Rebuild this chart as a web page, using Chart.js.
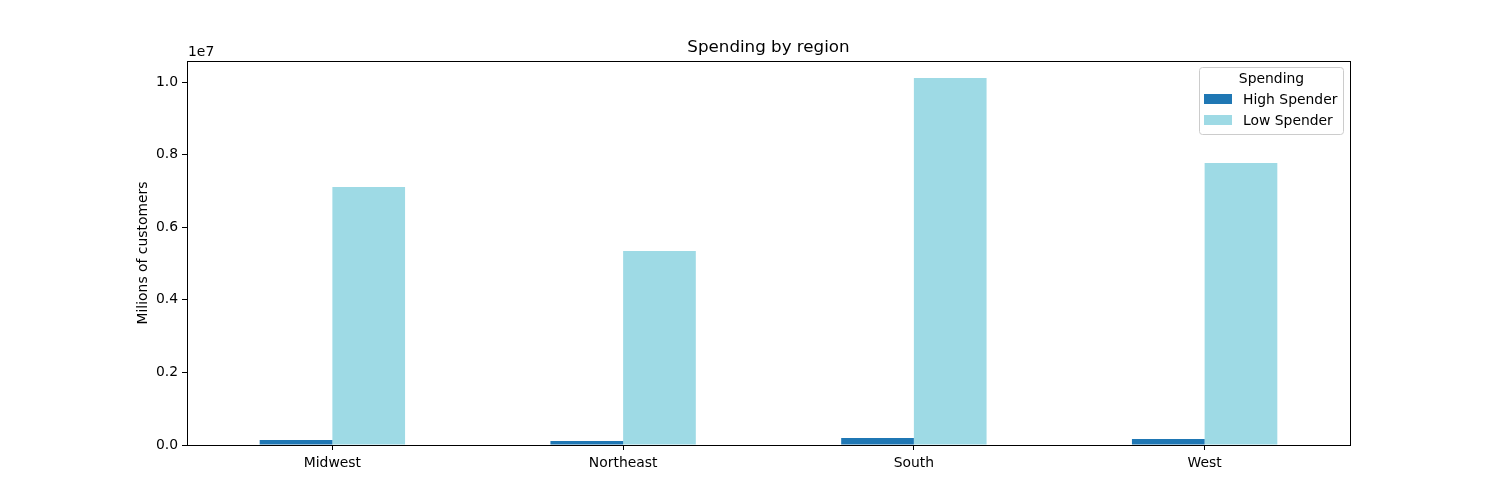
<!DOCTYPE html>
<html>
<head>
<meta charset="utf-8">
<script src="https://cdn.jsdelivr.net/npm/chart.js@4.4.0/dist/chart.umd.min.js"></script>
<style>
html,body{margin:0;padding:0;background:#fff;}
#wrap{width:1500px;height:500px;position:relative;}
</style>
</head>
<body>
<div id="wrap"><canvas id="c" width="1500" height="500"></canvas></div>
<script>
const categories = ["Midwest", "Northeast", "South", "West"];
const highSpender = [138000, 108000, 193000, 165000];
const lowSpender = [7107000, 5344000, 10110000, 7769000];
const seriesNames = ["High Spender", "Low Spender"];
const seriesColors = ["#1f77b4", "#9edae5"];
const yTicks = [0, 2000000, 4000000, 6000000, 8000000, 10000000];

const FONT = "'DejaVu Sans', sans-serif";

const decor = {
  id: 'decor',
  afterDraw(chart) {
    const ctx = chart.ctx;
    const a = chart.chartArea;
    ctx.save();
    ctx.strokeStyle = '#000';
    ctx.lineWidth = 1;
    ctx.strokeRect(Math.round(a.left) + 0.5, Math.round(a.top) + 0.5, Math.round(a.right - a.left), Math.round(a.bottom - a.top));
    ctx.fillStyle = '#000';
    ctx.font = '16.7px ' + FONT;
    ctx.textAlign = 'center';
    ctx.textBaseline = 'middle';
    ctx.fillText('Spending by region', (a.left + a.right) / 2, 47.5);
    ctx.font = '13.9px ' + FONT;
    ctx.textAlign = 'left';
    ctx.fillText('1e7', a.left + 1, 52);
    ctx.save();
    ctx.translate(143, (a.top + a.bottom) / 2);
    ctx.rotate(-Math.PI / 2);
    ctx.textAlign = 'center';
    ctx.fillText('Milions of customers', 0, 0);
    ctx.restore();
    const lx = 1199.5, ly = 67.5, lw = 144, lh = 67, r = 3;
    ctx.beginPath();
    ctx.moveTo(lx + r, ly);
    ctx.lineTo(lx + lw - r, ly);
    ctx.quadraticCurveTo(lx + lw, ly, lx + lw, ly + r);
    ctx.lineTo(lx + lw, ly + lh - r);
    ctx.quadraticCurveTo(lx + lw, ly + lh, lx + lw - r, ly + lh);
    ctx.lineTo(lx + r, ly + lh);
    ctx.quadraticCurveTo(lx, ly + lh, lx, ly + lh - r);
    ctx.lineTo(lx, ly + r);
    ctx.quadraticCurveTo(lx, ly, lx + r, ly);
    ctx.closePath();
    ctx.fillStyle = 'rgba(255,255,255,0.8)';
    ctx.fill();
    ctx.strokeStyle = '#cccccc';
    ctx.stroke();
    ctx.fillStyle = '#000';
    ctx.textAlign = 'center';
    ctx.fillText('Spending', lx + lw / 2, 79);
    ctx.textAlign = 'left';
    const rows = [99, 120];
    for (let i = 0; i < seriesNames.length; i++) {
      ctx.fillStyle = seriesColors[i];
      ctx.fillRect(1204, rows[i] - 5, 28, 10);
      ctx.fillStyle = '#000';
      ctx.fillText(seriesNames[i], 1243, rows[i] + 1);
    }
    ctx.restore();
  }
};

new Chart(document.getElementById('c'), {
  type: 'bar',
  data: {
    labels: categories,
    datasets: [
      { label: seriesNames[0], data: highSpender, backgroundColor: seriesColors[0], borderWidth: 0, categoryPercentage: 0.5, barPercentage: 1.0 },
      { label: seriesNames[1], data: lowSpender, backgroundColor: seriesColors[1], borderWidth: 0, categoryPercentage: 0.5, barPercentage: 1.0 }
    ]
  },
  options: {
    responsive: false,
    animation: false,
    devicePixelRatio: 1,
    layout: { padding: { left: 0, right: 150, top: 61, bottom: 0 } },
    plugins: { legend: { display: false }, title: { display: false }, tooltip: { enabled: false } },
    scales: {
      x: {
        offset: true,
        grid: { display: true, drawOnChartArea: false, drawTicks: true, tickLength: 5, color: '#000', offset: false },
        border: { display: true, color: '#000' },
        ticks: { color: '#000', font: { family: FONT, size: 13.9 }, padding: 5, maxRotation: 0 },
        afterFit(s) { s.height = 55; }
      },
      y: {
        min: 0,
        max: 10579000,
        afterBuildTicks(s) { s.ticks = yTicks.map(v => ({ value: v })); },
        grid: { display: true, drawOnChartArea: false, drawTicks: true, tickLength: 5, color: '#000' },
        border: { display: true, color: '#000' },
        ticks: { color: '#000', font: { family: FONT, size: 13.9 }, padding: 4, callback: v => (v / 1e7).toFixed(1) },
        afterFit(s) { s.width = 187; }
      }
    }
  },
  plugins: [decor]
});
</script>
</body>
</html>
